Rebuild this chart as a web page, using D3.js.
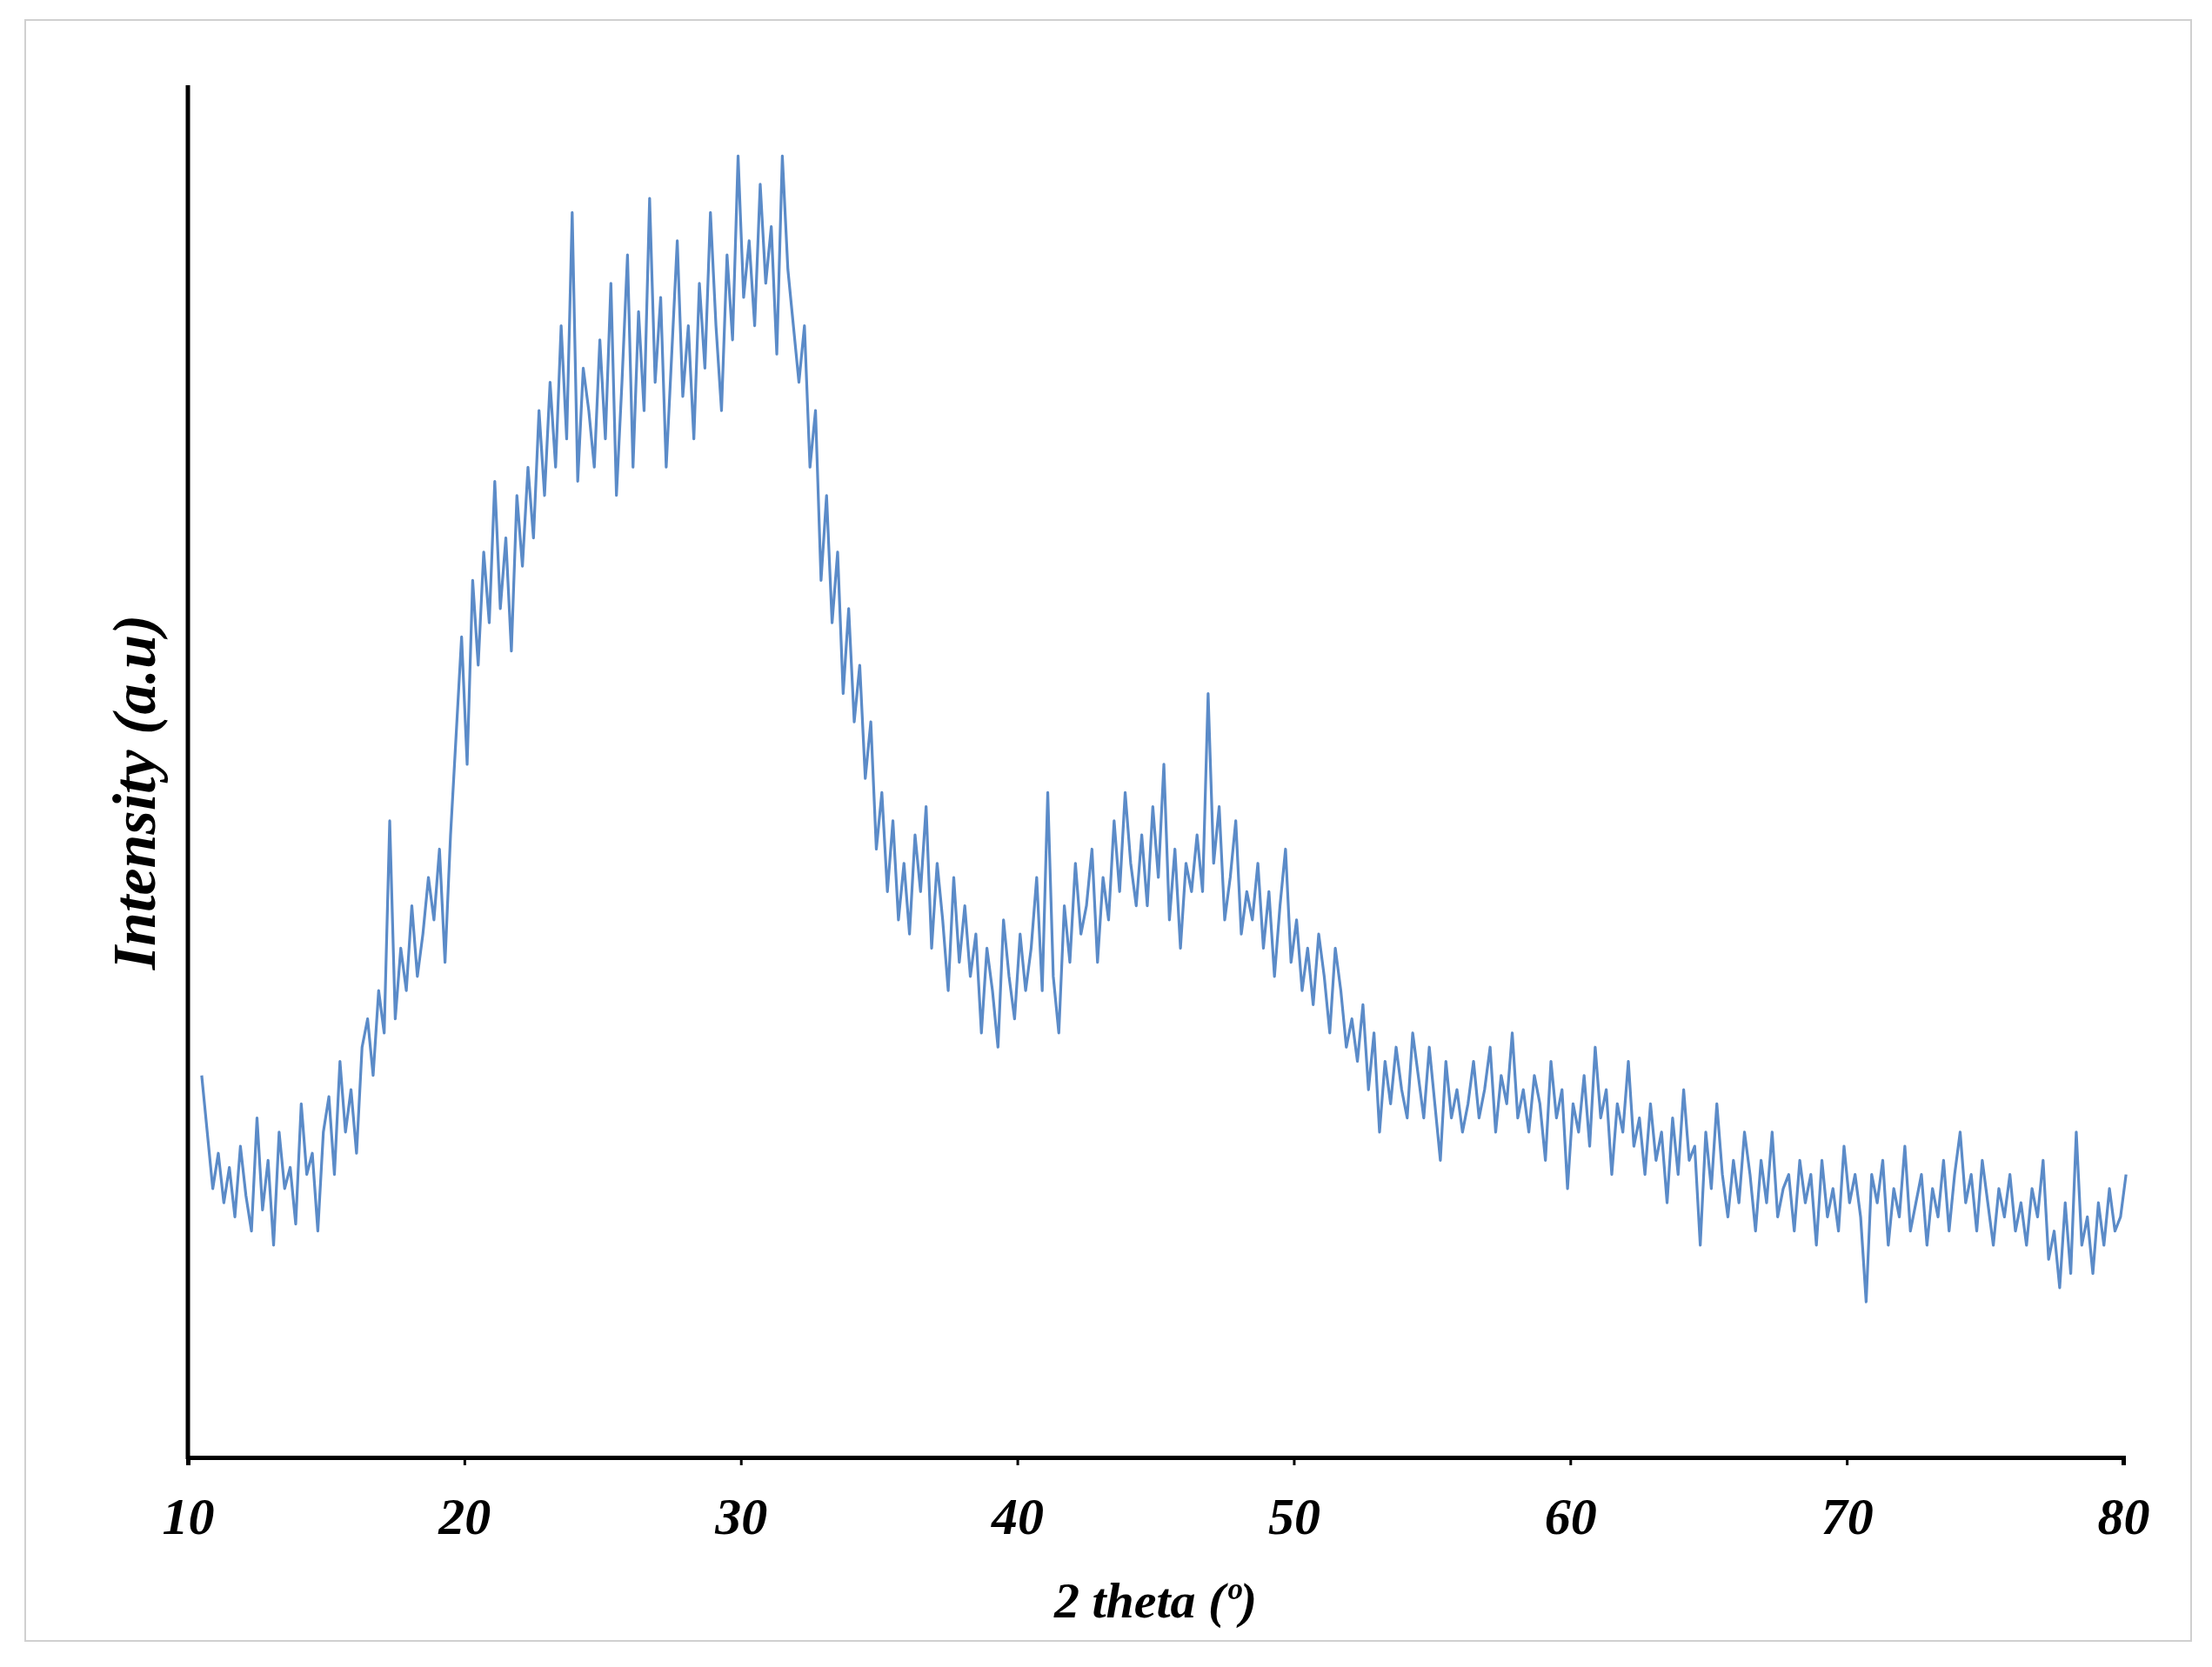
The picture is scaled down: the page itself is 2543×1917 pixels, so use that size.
<!DOCTYPE html>
<html>
<head>
<meta charset="utf-8">
<script src="https://cdn.jsdelivr.net/npm/d3@7"></script>
<style>
  body { margin: 0; background: #fff; }
</style>
</head>
<body>
<svg id="chart" width="2543" height="1917"></svg>
<script>
// 2 theta sampled every 0.2 deg starting at 10.5
var thetaStart = 10.5, thetaStep = 0.2;
var intensity = [
  270,230,190,215,180,205,170,220,185,160,
  240,175,210,150,230,190,205,165,250,200,
  215,160,230,255,200,280,230,260,215,290,
  310,270,330,300,450,310,360,330,390,340,
  370,410,380,430,350,440,510,580,490,620,
  560,640,590,690,600,650,570,680,630,700,
  650,740,680,760,700,800,720,880,690,770,
  740,700,790,720,830,680,760,850,700,810,
  740,890,760,820,700,780,860,750,800,720,
  830,770,880,800,740,850,790,920,820,860,
  800,900,830,870,780,920,840,800,760,800,
  700,740,620,680,590,640,540,600,520,560,
  480,520,430,470,400,450,380,420,370,440,
  400,460,360,420,380,330,410,350,390,340,
  370,300,360,330,290,380,340,310,370,330,
  360,410,330,470,340,300,390,350,420,370,
  390,430,350,410,380,450,400,470,420,390,
  440,390,460,410,490,380,430,360,420,400,
  440,400,540,420,460,380,410,450,370,400,
  380,420,360,400,340,390,430,350,380,330,
  360,320,370,340,300,360,330,290,310,280,
  320,260,300,230,280,250,290,260,240,300,
  270,240,290,250,210,280,240,260,230,250,
  280,240,260,290,230,270,250,300,240,260,
  230,270,250,210,280,240,260,190,250,230,
  270,220,290,240,260,200,250,230,280,220,
  240,200,250,210,230,180,240,200,260,210,
  220,150,230,190,250,200,170,210,180,230,
  200,160,210,180,230,170,190,200,160,210,
  180,200,150,210,170,190,160,220,180,200,
  170,110,200,180,210,150,190,170,220,160,
  180,200,150,190,170,210,160,200,230,180,
  200,160,210,180,150,190,170,200,160,180,
  150,190,170,210,140,160,120,180,130,230,
  150,170,130,180,150,190,160,170,200
];
var xTicks = [10, 20, 30, 40, 50, 60, 70, 80];
var xTitle = "2 theta (º)";
var yTitle = "Intensity (a.u)";

var svg = d3.select("#chart");
var plotLeft = 216, plotRight = 2441, plotTop = 98, plotBottom = 1676;

svg.append("rect")
  .attr("x", 29).attr("y", 23).attr("width", 2490).attr("height", 1864)
  .attr("fill", "none").attr("stroke", "#d0d0d0").attr("stroke-width", 2);

var x = d3.scaleLinear().domain([10, 80]).range([plotLeft, plotRight]);
var y = d3.scaleLinear().domain([0, 970]).range([plotBottom, plotTop]);

var pts = intensity.map(function(v, i){ return [thetaStart + i*thetaStep, v]; });

svg.append("path")
  .datum(pts)
  .attr("fill", "none")
  .attr("stroke", "#5b8bc8")
  .attr("stroke-width", 3.2)
  .attr("stroke-linejoin", "round")
  .attr("d", d3.line().x(function(d){ return x(d[0]); }).y(function(d){ return y(d[1]); }));

// axes
var xAxis = svg.append("g")
  .attr("transform", "translate(0," + plotBottom + ")")
  .call(d3.axisBottom(x).tickValues(xTicks).tickSize(9).tickFormat(d3.format("d")));
xAxis.select(".domain").attr("stroke", "#000").attr("stroke-width", 5);
xAxis.selectAll(".tick line").attr("stroke", "#000").attr("stroke-width", 3);
xAxis.selectAll("text")
  .attr("dy", "0")
  .attr("y", 88)
  .style("font-family", "'Liberation Serif', 'DejaVu Serif', serif")
  .style("font-size", "60px").style("font-weight", "bold").style("font-style", "italic")
  .attr("fill", "#000");

svg.append("line")
  .attr("x1", plotLeft).attr("x2", plotLeft).attr("y1", plotTop).attr("y2", plotBottom + 2)
  .attr("stroke", "#000").attr("stroke-width", 5);

svg.append("text")
  .attr("x", (plotLeft + plotRight) / 2).attr("y", 1860)
  .attr("text-anchor", "middle")
  .style("font-family", "'Liberation Serif', 'DejaVu Serif', serif")
  .style("font-size", "58px").style("font-weight", "bold").style("font-style", "italic")
  .text(xTitle);

svg.append("text")
  .attr("transform", "translate(178,911) rotate(-90)")
  .attr("text-anchor", "middle")
  .style("font-family", "'Liberation Serif', 'DejaVu Serif', serif")
  .style("font-size", "70px").style("font-weight", "bold").style("font-style", "italic")
  .text(yTitle);
</script>
</body>
</html>
